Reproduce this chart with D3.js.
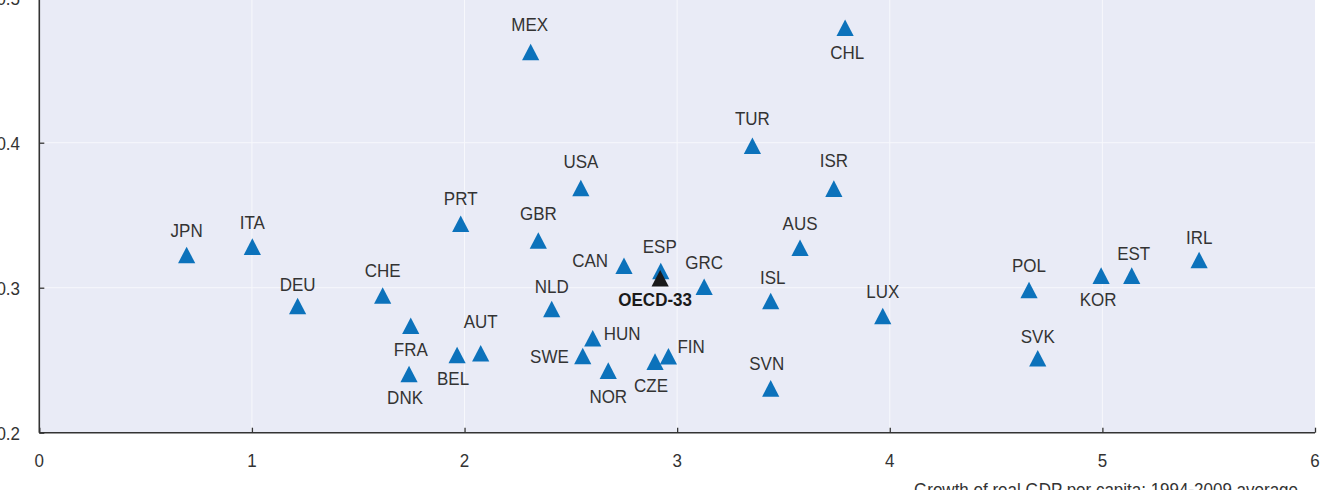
<!DOCTYPE html>
<html>
<head>
<meta charset="utf-8">
<script src="https://cdn.jsdelivr.net/npm/d3@7"></script>
<style>
  html, body { margin: 0; padding: 0; background: #ffffff; }
  svg { display: block; }
  text { font-family: "Liberation Sans", Arial, sans-serif; }
</style>
</head>
<body>
<svg id="chart" width="1323" height="490"></svg>
<script>
// ---- data ----
const countries = ["JPN","ITA","DEU","CHE","FRA","DNK","PRT","BEL","AUT","MEX","GBR","NLD","USA","SWE","HUN","NOR","CAN","CZE","FIN","ESP","OECD-33","GRC","TUR","ISL","SVN","AUS","ISR","CHL","LUX","POL","SVK","KOR","EST","IRL"];
const gdpGrowth = [0.693,1.002,1.215,1.615,1.747,1.739,1.982,1.965,2.076,2.311,2.347,2.410,2.547,2.556,2.603,2.676,2.750,2.896,2.959,2.923,2.920,3.127,3.354,3.440,3.440,3.578,3.737,3.790,3.967,4.655,4.696,4.994,5.138,5.455];
const giniValues = [0.3226,0.3283,0.2874,0.2946,0.2738,0.2405,0.3441,0.2536,0.2548,0.4626,0.3326,0.2853,0.3688,0.2529,0.2651,0.2428,0.3151,0.2490,0.2527,0.3115,0.3065,0.3007,0.3979,0.2908,0.2306,0.3276,0.3683,0.4793,0.2805,0.2984,0.2513,0.3083,0.3083,0.3191];
const xTicks = [0,1,2,3,4,5,6];
const yTicks = [0.2,0.3,0.4,0.5];
const xTitle = "Growth of real GDP per capita; 1994-2009 average";

// ---- label placement (layout only) ----
const labelPos = {
  "JPN":[0,-18,"middle"], "ITA":[0,-18,"middle"], "DEU":[0,-15,"middle"], "CHE":[0,-19,"middle"],
  "FRA":[0,30,"middle"], "DNK":[-4,30,"middle"], "PRT":[0,-19,"middle"], "BEL":[-4,30,"middle"],
  "AUT":[0,-25,"middle"], "MEX":[-1,-21,"middle"], "GBR":[0,-20,"middle"], "NLD":[0,-16,"middle"],
  "USA":[0,-20,"middle"], "SWE":[-14,7,"end"], "HUN":[11,2,"start"], "NOR":[0,32,"middle"],
  "CAN":[-16,1,"end"], "CZE":[-4,30,"middle"], "FIN":[9,-3,"start"], "ESP":[-1,-18,"middle"],
  "OECD-33":[-5,28,"middle"], "GRC":[0,-18,"middle"], "TUR":[0,-21,"middle"], "ISL":[2,-17,"middle"],
  "SVN":[-4,-18,"middle"], "AUS":[0,-18,"middle"], "ISR":[0,-22,"middle"], "CHL":[2,31,"middle"],
  "LUX":[0,-18,"middle"], "POL":[0,-18,"middle"], "SVK":[0,-15,"middle"], "KOR":[-3,30,"middle"],
  "EST":[2,-16,"middle"], "IRL":[0,-16,"middle"]
};

const data = countries.map((c,i) => ({code:c, x:gdpGrowth[i], y:giniValues[i]}));

const svg = d3.select("#chart");
const pLeft = 39.3, pRight = 1315, pTop = -2.3, pBottom = 432.7;
const x = d3.scaleLinear().domain([0,6]).range([pLeft,pRight]);
const y = d3.scaleLinear().domain([0.2,0.5]).range([pBottom,pTop]);

const textColor = "#333333";
const blue = "#0c72bb";
const fs = 17, vs = 1.12;

// background
svg.append("rect").attr("x",pLeft).attr("y",pTop).attr("width",pRight-pLeft).attr("height",pBottom-pTop).attr("fill","#e9ebf6");

// gridlines
svg.append("g").selectAll("line").data(xTicks.filter(t=>t>0 && t<6)).join("line")
  .attr("x1",d=>x(d)).attr("x2",d=>x(d)).attr("y1",pTop).attr("y2",pBottom)
  .attr("stroke","#f7f8fc").attr("stroke-width",1);
svg.append("g").selectAll("line").data(yTicks.filter(t=>t>0.2)).join("line")
  .attr("x1",pLeft).attr("x2",pRight).attr("y1",d=>y(d)).attr("y2",d=>y(d))
  .attr("stroke","#f7f8fc").attr("stroke-width",1);

// axes (inward ticks)
const xAxis = svg.append("g").attr("transform",`translate(0,${pBottom})`)
  .call(d3.axisTop(x).tickValues(xTicks).tickSize(5).tickFormat(""));
xAxis.select(".domain").attr("stroke","#333").attr("stroke-width",1.6).attr("d",`M${pLeft},0H${pRight}`);
xAxis.selectAll(".tick line").attr("stroke","#333").attr("stroke-width",1.3);

const yAxis = svg.append("g").attr("transform",`translate(${pLeft},0)`)
  .call(d3.axisRight(y).tickValues(yTicks).tickSize(5).tickFormat(""));
yAxis.select(".domain").attr("stroke","#333").attr("stroke-width",1.6).attr("d",`M0,${pTop}V${pBottom}`);
yAxis.selectAll(".tick line").attr("stroke","#333").attr("stroke-width",1.3);

// tick labels
svg.append("g").selectAll("text").data(xTicks).join("text")
  .attr("transform",d=>`translate(${x(d)},${466.5}) scale(1,${vs})`)
  .attr("text-anchor","middle").attr("font-size",fs).attr("fill",textColor)
  .text(d=>d3.format("d")(d));
svg.append("g").selectAll("text").data(yTicks).join("text")
  .attr("transform",d=>`translate(20,${y(d)+7.2}) scale(1,${vs})`)
  .attr("text-anchor","end").attr("font-size",fs).attr("fill",textColor)
  .text(d=>d3.format(".1f")(d));

// axis title
svg.append("text").attr("transform",`translate(1298,${495.5}) scale(1,${vs})`)
  .attr("text-anchor","end").attr("font-size",fs).attr("fill",textColor).text(xTitle);

// markers
const tri = "M0,-8.3L8.6,8.3L-8.6,8.3Z";
svg.append("g").selectAll("path").data(data).join("path")
  .attr("d",tri)
  .attr("transform",d=>`translate(${x(d.x)},${y(d.y)})`)
  .attr("fill",d=>d.code==="OECD-33" ? "#1a1a1a" : blue);

// labels
svg.append("g").selectAll("text").data(data).join("text")
  .attr("transform",d=>{const p=labelPos[d.code];return `translate(${x(d.x)+p[0]},${y(d.y)+p[1]}) scale(1,${vs})`;})
  .attr("text-anchor",d=>labelPos[d.code][2])
  .attr("font-size",fs)
  .attr("font-weight",d=>d.code==="OECD-33"?"bold":"normal")
  .attr("fill",d=>d.code==="OECD-33"?"#1a1a1a":textColor)
  .text(d=>d.code);
</script>
</body>
</html>
